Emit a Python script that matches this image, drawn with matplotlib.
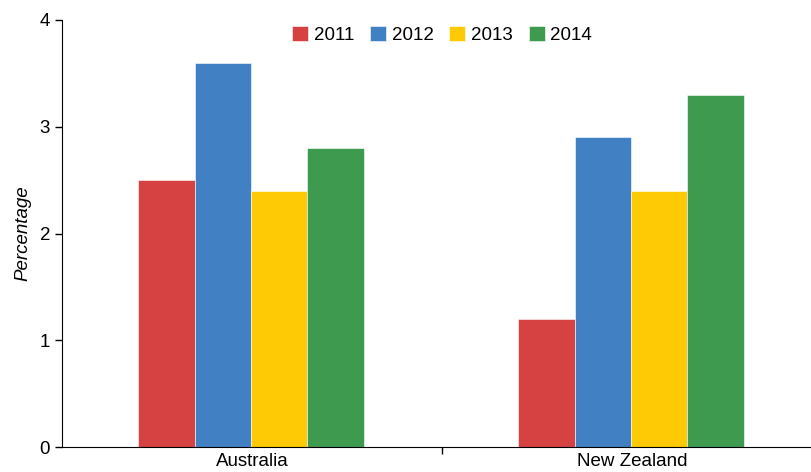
import numpy as np
import matplotlib.pyplot as plt

plt.rcParams['font.family'] = ['Liberation Sans', 'DejaVu Sans']

countries = ["Australia", "New Zealand"]
years = ["2011", "2012", "2013", "2014"]
values = {
    "2011": [2.5, 1.2],
    "2012": [3.6, 2.9],
    "2013": [2.4, 2.4],
    "2014": [2.8, 3.3],
}
colors = ["#d64242", "#4181c3", "#fec905", "#3e9a4f"]

fig = plt.figure(figsize=(8.11, 4.72), dpi=100)
ax = fig.add_axes([62 / 811, 25 / 472, 760 / 811, 427 / 472])

x = np.arange(len(countries)) - 1 / 380
w = 56.4 / 380
for i, yr in enumerate(years):
    ax.bar(x + (i - 1.5) * w, values[yr], w, color=colors[i], label=yr,
           edgecolor="white", linewidth=0.4)

ax.set_xlim(-0.5, 1.5)
ax.set_ylim(0, 4)
ax.set_yticks([0, 1, 2, 3, 4])
ax.set_xticks(np.arange(len(countries)))
ax.set_xticklabels(countries)
ax.set_xticks([0.5], minor=True)
ax.tick_params(axis="x", which="major", length=0, pad=4, labelsize=13.5)
ax.tick_params(axis="x", which="minor", length=5, width=1)
ax.tick_params(axis="y", length=5, width=1, labelsize=13.5)
for s in ["top", "right"]:
    ax.spines[s].set_visible(False)
ax.set_ylabel("Percentage", style="italic", fontsize=13.5, labelpad=6)

ax.legend(loc="upper center", bbox_to_anchor=(0.5, 1.025), ncol=4,
          frameon=False, fontsize=13.5, handlelength=0.85, handleheight=0.85,
          handletextpad=0.3, columnspacing=0.85)

fig.savefig("out.png", dpi=100)
